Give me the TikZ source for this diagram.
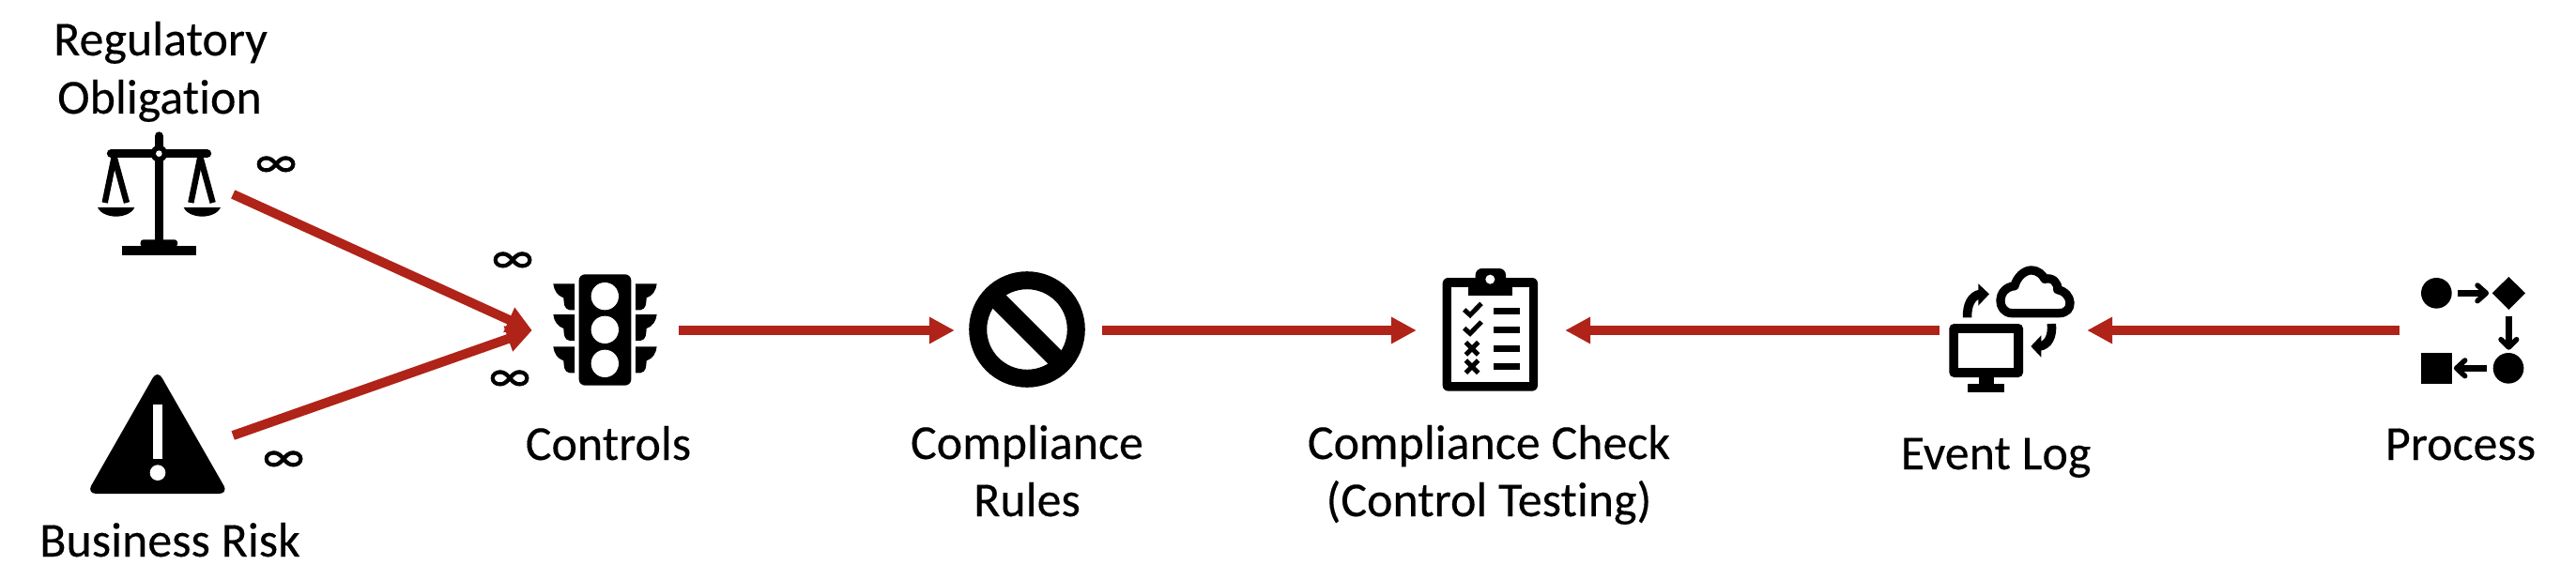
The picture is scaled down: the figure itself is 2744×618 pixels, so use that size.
\documentclass[tikz,border=0pt]{standalone}
\usepackage{fontspec}
\setmainfont[Ligatures=NoCommon,FakeBold=0.25]{Carlito}
\newfontfamily\inffont[FakeBold=1.2]{Carlito}
\usetikzlibrary{arrows.meta}
\definecolor{arrowred}{HTML}{B02318}
\newcommand{\lblfont}{\fontsize{52}{61}\selectfont}
\tikzset{
  label text/.style={font=\lblfont, align=center, anchor=base, inner sep=0pt, text=black},
  inf/.style={font=\inffont\lblfont, inner sep=0pt, text=black},
  link/.style={draw=arrowred, line width=10pt, -{Triangle[length=27pt,width=27pt]}},
  hit/.style={draw=none, fill=none, inner sep=0pt, minimum height=100pt},
  icon/.style={x=0.33333pt, y=-0.33333pt},
  ink/.style={fill=black, draw=none},
  hole/.style={fill=white, draw=none},
}
\begin{document}
\begin{tikzpicture}[x=1pt,y=-1pt]
\useasboundingbox (0,0) rectangle (2744,618);
% labels
\node[label text] (t1) at (171,59) {Regulatory};
\node[label text] (t2) at (170,121) {Obligation};
\node[label text] (t3) at (181,593) {Business Risk};
\node[label text] (t4) at (648,490) {Controls};
\node[label text] (t5) at (1094,489) {Compliance};
\node[label text] (t6) at (1094,550) {Rules};
\node[label text] (t7) at (1586,489) {Compliance Check};
\node[label text] (t8) at (1586,550) {(Control Testing)};
\node[label text] (t9) at (2126,500) {Event Log};
\node[label text] (t10) at (2621,490) {Process};
\node[inf] (i1) at (294,178) {∞};
\node[inf] (i2) at (546,280) {∞};
\node[inf] (i3) at (543,406) {∞};
\node[inf] (i4) at (302,492) {∞};
% anchor boxes of the icons
\node[hit, minimum width=156pt] (scales) at (170,207) {};
\node[hit, minimum width=156pt] (risk) at (170,464) {};
\node[hit, minimum width=156pt] (controls) at (645,352) {};
\node[hit, minimum width=157pt] (rules) at (1095.5,352) {};
\node[hit, minimum width=158pt] (check) at (1588,352) {};
\node[hit, minimum width=157pt] (log) at (2144.5,352) {};
\node[hit, minimum width=138pt] (process) at (2625,352) {};
% scales
\begin{scope}[shift={(80,130)}, icon]
  \draw[line width=9.3pt, line cap=round] (268,45) -- (268,100);
  \draw[line width=9pt, line cap=round] (115,101) -- (422,101);
  \fill[ink] (254,101) rectangle (282,385);
  \fill[ink] (268,101) circle (27);
  \fill[hole] (268,101) circle (10);
  \fill[ink] (150,397) rectangle (386,425);
  \fill[ink, rounded corners=3pt] (209,400) -- (209,376) -- (327,376) -- (327,400) -- cycle;
  \foreach \d in {0,275}{
    \draw[line width=6.4pt] (125+\d,112) -- (95+\d,258);
    \draw[line width=6.4pt] (125+\d,112) -- (165+\d,258);
    \fill[ink] (72+\d,273) -- (190+\d,273) .. controls (180+\d,295) and (150+\d,302) .. (131+\d,302) .. controls (112+\d,302) and (82+\d,295) .. (72+\d,273) -- cycle;
  }
\end{scope}
% warning triangle
\begin{scope}[shift={(80,390)}, icon]
  \fill[ink, rounded corners=10pt] (263,12) -- (490,408) -- (37,408) -- cycle;
  \fill[hole] (249,124) rectangle (279,297);
  \fill[hole] (264,341) circle (25);
\end{scope}
% traffic light
\begin{scope}[shift={(570,280)}, icon]
  \fill[ink, rounded corners=6.5pt] (140,37) rectangle (307,392);
  \foreach \c in {107,214,322} \fill[hole] (223,\c) circle (44);
  \foreach \d in {0,98,201}{
    \fill[ink] (58,67+\d) -- (126,67+\d) -- (126,151+\d) -- (110,151+\d) .. controls (92,148+\d) and (92,130+\d) .. (91,112+\d) .. controls (72,106+\d) and (60,88+\d) .. (58,67+\d) -- cycle;
    \fill[ink] (389,67+\d) -- (321,67+\d) -- (321,151+\d) -- (337,151+\d) .. controls (355,148+\d) and (355,130+\d) .. (356,112+\d) .. controls (375,106+\d) and (387,88+\d) .. (389,67+\d) -- cycle;
  }
\end{scope}
% prohibition sign
\draw[line width=19pt] (1094,351) circle (52.3);
\draw[line width=20pt] (1056,313) -- (1132,389);
% clipboard
\begin{scope}[shift={(1500,270)}, icon]
  \fill[ink, rounded corners=6pt] (110,78) rectangle (414,440);
  \fill[hole] (139,107) rectangle (386,412);
  \fill[ink, rounded corners=7pt] (215,110) -- (215,48) -- (312,48) -- (312,110) -- cycle;
  \fill[ink] (193,100) rectangle (332,136);
  \fill[hole] (262,83) circle (15);
  \foreach \d in {0,59}{
    \draw[line width=5pt] (179,180+\d) -- (198,197+\d) -- (234,160+\d);
  }
  \foreach \c in {304,362}{
    \draw[line width=5pt] (184,\c-20) -- (224,\c+20) (224,\c-20) -- (184,\c+20);
  }
  \foreach \y in {175,235,294,352} \fill[ink] (272,\y) rectangle (356,\y+20);
\end{scope}
% computer and cloud
\begin{scope}[shift={(2050,270)}, icon]
  \fill[ink, rounded corners=5pt] (79,225) rectangle (315,396);
  \fill[hole] (108,254) rectangle (286,367);
  \fill[ink] (173,396) rectangle (222,416);
  \fill[ink] (138,416) rectangle (256,445);
  \draw[line width=9.3pt, line join=round] (280,191) .. controls (230,191) and (228,110) .. (288,104) .. controls (295,75) and (320,54) .. (340,54) .. controls (365,54) and (378,70) .. (384,82) .. controls (410,75) and (428,95) .. (425,116) .. controls (475,125) and (480,191) .. (430,191) -- cycle;
  \draw[line width=9.5pt] (137,205) .. controls (135,165) and (150,135) .. (178,130);
  \fill[ink] (172,97) -- (207,130) -- (172,167) -- cycle;
  \draw[line width=9.5pt] (406,225) .. controls (410,265) and (395,293) .. (368,297);
  \fill[ink] (373,262) -- (340,297) -- (373,332) -- cycle;
\end{scope}
% process
\begin{scope}[shift={(2560,280)}, icon]
  \fill[ink] (106,97) circle (49);
  \draw[line width=6.7pt] (175,97) -- (258,97);
  \draw[line width=5.5pt, line cap=round, line join=round] (237,72) -- (265,97) -- (237,122);
  \fill[ink] (337,45) -- (390,97) -- (337,150) -- (284,97) -- cycle;
  \draw[line width=6.7pt] (337,170) -- (337,262);
  \draw[line width=5.5pt, line cap=round, line join=round] (312,245) -- (337,270) -- (362,245);
  \fill[ink] (336,337) circle (49);
  \fill[ink] (57,288) rectangle (155,386);
  \draw[line width=6.7pt] (268,337) -- (180,337);
  \draw[line width=5.5pt, line cap=round, line join=round] (197,312) -- (170,337) -- (197,362);
\end{scope}
% connectors
\draw[link] (scales.east) -- (controls.west);
\draw[link] (risk.east) -- (controls.west);
\draw[link] (controls.east) -- (rules.west);
\draw[link] (rules.east) -- (check.west);
\draw[link] (log.west) -- (check.east);
\draw[link] (process.west) -- (log.east);
\end{tikzpicture}
\end{document}
